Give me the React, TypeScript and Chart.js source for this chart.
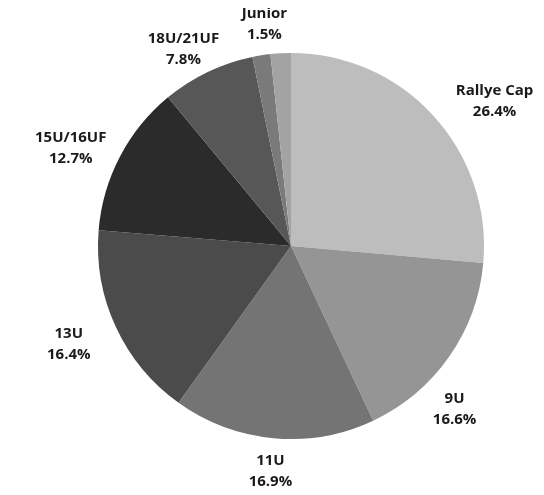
import React, { useEffect, useRef } from "react";
import { Chart, registerables } from "chart.js";

Chart.register(...registerables);

const categories = ["Rallye Cap", "9U", "11U", "13U", "15U/16UF", "18U/21UF", "Junior", ""];
const shares = [26.4, 16.6, 16.9, 16.4, 12.7, 7.8, 1.5, 1.7];
const shareLabels = ["26.4%", "16.6%", "16.9%", "16.4%", "12.7%", "7.8%", "1.5%", ""];
const sliceColors = ["#bdbdbd", "#959595", "#747474", "#4b4b4b", "#2b2b2b", "#575757", "#7a7a7a", "#a3a3a3"];

// label placement styling (radial extra distance in px, angular nudge in degrees)
const labelExtra = [57, 38, 33, 50, 48, 32, 31, 0];
const labelNudge = [7, 10, 0, 1, -3.6, -3, 2, 0];

const outsideLabels = {
  id: "outsideLabels",
  afterDatasetsDraw(chart: any) {
    const { ctx } = chart;
    const meta = chart.getDatasetMeta(0);
    ctx.save();
    ctx.fillStyle = "#1a1a1a";
    ctx.font = "bold 15px 'Open Sans'";
    ctx.textAlign = "center";
    ctx.textBaseline = "middle";
    meta.data.forEach((arc: any, i: number) => {
      if (!categories[i]) return;
      const p = arc.getProps(["x", "y", "startAngle", "endAngle", "outerRadius"], true);
      const mid = (p.startAngle + p.endAngle) / 2 + (labelNudge[i] * Math.PI) / 180;
      const d = p.outerRadius + labelExtra[i];
      const cx = p.x + Math.cos(mid) * d;
      const cy = p.y + Math.sin(mid) * d;
      ctx.fillText(categories[i], cx, cy - 10);
      ctx.fillText(shareLabels[i], cx, cy + 11);
    });
    ctx.restore();
  },
};

export default function App() {
  const ref = useRef<HTMLCanvasElement | null>(null);
  useEffect(() => {
    if (!ref.current) return;
    const chart = new Chart(ref.current, {
      type: "pie",
      data: {
        labels: categories,
        datasets: [
          {
            data: shares,
            backgroundColor: sliceColors,
            borderWidth: 0,
          },
        ],
      },
      options: {
        responsive: true,
        maintainAspectRatio: false,
        animation: false,
        layout: { padding: { top: 45, bottom: 48, left: 90, right: 52 } },
        plugins: {
          legend: { display: false },
          tooltip: { enabled: false },
        },
      },
      plugins: [outsideLabels],
    });
    return () => chart.destroy();
  }, []);
  return (
    <div style={{ width: 528, height: 479, position: "relative", background: "#fff" }}>
      <canvas ref={ref} />
    </div>
  );
}
